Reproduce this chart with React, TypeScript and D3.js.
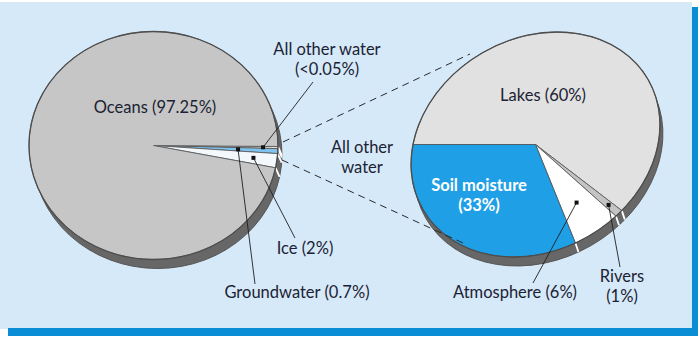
import React from "react";
import * as d3 from "d3";

// ---------- data ----------
const leftCategories = ["All other water", "Groundwater", "Ice", "Oceans"];
const leftValues = [0.05, 0.7, 2, 97.25];
const leftColors = ["#e9e0cd", "#80c3ee", "#f3f8fd", "#c6c6c6"];

const rightCategories = ["Lakes", "Rivers", "Atmosphere", "Soil moisture"];
const rightValues = [60, 1, 6, 33];
const rightColors = ["#e1e1e1", "#c4c4c4", "#ffffff", "#1fa0e6"];

const W = 700;
const H = 338;
const DEG = Math.PI / 180;

type Geom = {
  cx: number; cy: number; rx: number; ry: number; rot: number;
  dx: number; dy: number; start: number;
};

const LP: Geom = { cx: 153.5, cy: 145.5, rx: 124.5, ry: 114, rot: 0, dx: 4, dy: 9, start: 90.5 * DEG };
const RP: Geom = { cx: 535.5, cy: 144.5, rx: 130, ry: 106, rot: -30, dx: 3, dy: 9, start: -54.7 * DEG };

function project(g: Geom, angle: number, frac: number): [number, number] {
  const t = angle - Math.PI / 2;
  const x = g.rx * frac * Math.cos(t);
  const y = g.ry * frac * Math.sin(t);
  const r = g.rot * DEG;
  return [g.cx + x * Math.cos(r) - y * Math.sin(r), g.cy + x * Math.sin(r) + y * Math.cos(r)];
}

function makeArcs(g: Geom, values: number[], minShare: number) {
  const shown = values.map((v) => Math.max(v, minShare));
  return d3
    .pie<number>()
    .sort(null)
    .value((d) => d)
    .startAngle(g.start)
    .endAngle(g.start + 2 * Math.PI)(shown);
}

function Pie3D({ g, values, colors, minShare }: { g: Geom; values: number[]; colors: string[]; minShare: number }) {
  const arcs = makeArcs(g, values, minShare);
  const arcGen = d3.arc<any>().innerRadius(0).outerRadius(g.rx);
  const k = g.ry / g.rx;
  const tf = `translate(${g.cx},${g.cy}) rotate(${g.rot}) scale(1,${k})`;
  return (
    <g>
      <g transform={`translate(${g.dx},${g.dy})`}>
        <g transform={tf}>
          <circle r={g.rx} fill="#676767" stroke="#555" strokeWidth={1} vectorEffect="non-scaling-stroke" />
        </g>
      </g>
      {arcs.map((a, i) => {
        const [x, y] = project(g, a.startAngle, 1);
        return (
          <line key={"sep" + i} x1={x} y1={y} x2={x + g.dx} y2={y + g.dy} stroke="#fff" strokeWidth={1.8} />
        );
      })}
      <g transform={tf}>
        {arcs.map((a, i) => (
          <path
            key={"s" + i}
            d={arcGen(a) as string}
            fill={colors[i]}
            stroke="#555"
            strokeWidth={0.8}
            vectorEffect="non-scaling-stroke"
          />
        ))}
        <circle r={g.rx} fill="none" stroke="#4d4d4d" strokeWidth={1.3} vectorEffect="non-scaling-stroke" />
      </g>
    </g>
  );
}

const FONT = "Lato, 'Open Sans', sans-serif";
const TXT = "#1b2233";

export default function App() {
  const la = makeArcs(LP, leftValues, 0.3);
  const ra = makeArcs(RP, rightValues, 0);
  const mid = (a: any) => (a.startAngle + a.endAngle) / 2;

  const leftDots = [
    { p: project(LP, mid(la[0]), 0.88), to: [313, 82] },
    { p: project(LP, mid(la[1]), 0.68), to: [255, 284] },
    { p: project(LP, mid(la[2]), 0.81), to: [295, 238] },
  ];
  const rightDots = [
    { p: project(RP, mid(ra[2]), 0.67), to: [533, 283] },
    { p: project(RP, mid(ra[1]), 0.876), to: [620, 267] },
  ];
  const dots = [...leftDots, ...rightDots];

  const labels: { lines: string[]; x: number; y: number; bold?: boolean; fill?: string }[] = [
    { lines: [`${leftCategories[3]} (${leftValues[3]}%)`], x: 155, y: 113 },
    { lines: [leftCategories[0], `(<${leftValues[0]}%)`], x: 327, y: 55 },
    { lines: ["All other", "water"], x: 362, y: 153 },
    { lines: [`${leftCategories[2]} (${leftValues[2]}%)`], x: 305, y: 254 },
    { lines: [`${leftCategories[1]} (${leftValues[1]}%)`], x: 297, y: 298 },
    { lines: [`${rightCategories[0]} (${rightValues[0]}%)`], x: 543, y: 101 },
    { lines: [rightCategories[3], `(${rightValues[3]}%)`], x: 479, y: 191, bold: true, fill: "#ffffff" },
    { lines: [`${rightCategories[2]} (${rightValues[2]}%)`], x: 515, y: 298 },
    { lines: [rightCategories[1], `(${rightValues[1]}%)`], x: 622, y: 282 },
  ];

  return (
    <svg
      width={W}
      height={H}
      viewBox={`0 0 ${W} ${H}`}
      style={{ position: "absolute", left: 0, top: 0, display: "block" }}
    >
      <rect x={0} y={0} width={W} height={H} fill="#ffffff" />
      <rect x={0} y={2} width={692} height={327} fill="#d6e9f8" />
      <rect x={692} y={7} width={6} height={329} fill="#0b8dd6" />
      <rect x={8} y={328} width={690} height={8} fill="#0b8dd6" />

      <Pie3D g={LP} values={leftValues} colors={leftColors} minShare={0.3} />
      <Pie3D g={RP} values={rightValues} colors={rightColors} minShare={0} />

      <line x1={283} y1={142} x2={470} y2={54} stroke="#2a2a2a" strokeWidth={1} strokeDasharray="7,5" />
      <line x1={282} y1={160} x2={463} y2={243} stroke="#2a2a2a" strokeWidth={1} strokeDasharray="7,5" />

      {dots.map((d, i) => (
        <g key={"d" + i}>
          <line x1={d.p[0]} y1={d.p[1]} x2={d.to[0]} y2={d.to[1]} stroke="#1f1f1f" strokeWidth={0.9} />
          <rect x={d.p[0] - 2} y={d.p[1] - 2} width={4} height={4} fill="#111" />
        </g>
      ))}

      {labels.map((l, i) => (
        <text
          key={"l" + i}
          x={l.x}
          y={l.y}
          textAnchor="middle"
          fontFamily={FONT}
          fontSize={16.5}
          fontWeight={l.bold ? 700 : 400}
          fill={l.fill ?? TXT}
        >
          {l.lines.map((s, j) => (
            <tspan key={j} x={l.x} dy={j === 0 ? 0 : 20}>
              {s}
            </tspan>
          ))}
        </text>
      ))}
    </svg>
  );
}
